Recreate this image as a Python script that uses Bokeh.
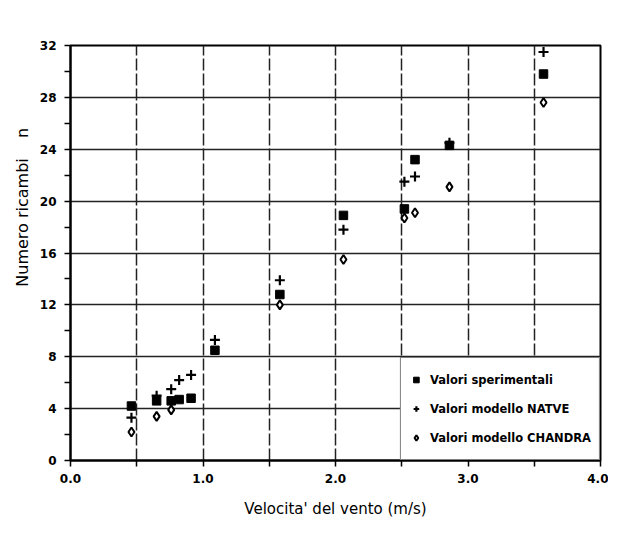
from bokeh.plotting import figure
from bokeh.models import FixedTicker, NumeralTickFormatter, Legend, LegendItem
from bokeh.embed import file_html
from bokeh.resources import INLINE

# ---- data ----
x_exp = [0.46, 0.65, 0.76, 0.82, 0.91, 1.09, 1.58, 2.06, 2.52, 2.60, 2.86, 3.57]
y_exp = [4.2, 4.6, 4.6, 4.7, 4.8, 8.5, 12.8, 18.9, 19.4, 23.2, 24.3, 29.8]

x_natve = [0.46, 0.65, 0.76, 0.82, 0.91, 1.09, 1.58, 2.06, 2.52, 2.60, 2.86, 3.57]
y_natve = [3.3, 5.0, 5.5, 6.2, 6.6, 9.3, 13.9, 17.8, 21.5, 21.9, 24.5, 31.5]

x_chandra = [0.46, 0.65, 0.76, 1.58, 2.06, 2.52, 2.60, 2.86, 3.57]
y_chandra = [2.2, 3.4, 3.9, 12.0, 15.5, 18.7, 19.1, 21.1, 27.6]

x_ticks = [0, 1, 2, 3, 4]
x_minor = [0.5, 1.5, 2.5, 3.5]
y_ticks = [0, 4, 8, 12, 16, 20, 24, 28, 32]
y_minor = [2, 6, 10, 14, 18, 22, 26, 30]

labels = ["Valori sperimentali", "Valori modello NATVE", "Valori modello CHANDRA"]
x_title = "Velocita' del vento (m/s)"
y_title = "Numero ricambi" + "\u00a0" * 4 + "n"

FONT = "DejaVu Sans"
NB = "\u00a0"

p = figure(width=608, height=526, output_backend="svg", toolbar_location=None,
           x_range=(0, 4), y_range=(0, 32),
           min_border_left=70, min_border_right=8, min_border_top=45, min_border_bottom=66,
           background_fill_color="white", border_fill_color="white")

p.outline_line_color = "black"
p.outline_line_width = 2

# axes
p.xaxis.ticker = FixedTicker(ticks=x_ticks, minor_ticks=x_minor)
p.yaxis.ticker = FixedTicker(ticks=y_ticks, minor_ticks=y_minor)
p.xaxis.formatter = NumeralTickFormatter(format="0.0")
for ax in (p.xaxis, p.yaxis):
    ax.axis_line_color = "black"
    ax.axis_line_width = 2
    ax.major_tick_line_color = "black"
    ax.minor_tick_line_color = "black"
    ax.major_tick_line_width = 1.5
    ax.minor_tick_line_width = 1.5
    ax.major_tick_in = 0
    ax.major_tick_out = 6
    ax.minor_tick_in = 0
    ax.minor_tick_out = 6
    ax.major_label_text_font = FONT
    ax.major_label_text_font_style = "bold"
    ax.major_label_text_font_size = "12px"
    ax.major_label_text_color = "black"
    ax.axis_label_text_font = FONT
    ax.axis_label_text_font_style = "normal"
    ax.axis_label_text_color = "black"

p.xaxis.axis_label_text_font_size = "15px"
p.yaxis.axis_label_text_font_size = "16px"
p.xaxis.axis_label = x_title
# leading non-breaking spaces shift the visible label upward, as in the reference
p.yaxis.axis_label = NB * 18 + y_title
p.xaxis.major_label_standoff = 7
p.xaxis.axis_label_standoff = 14
p.yaxis.major_label_standoff = 8
p.yaxis.axis_label_standoff = 5

# grids
p.xgrid.ticker = FixedTicker(ticks=x_minor + [1, 2, 3])
p.ygrid.ticker = FixedTicker(ticks=[4, 8, 12, 16, 20, 24, 28])
p.xgrid.grid_line_color = "#222222"
p.xgrid.grid_line_width = 1.5
p.xgrid.grid_line_dash = "12 3"
p.ygrid.grid_line_color = "#222222"
p.ygrid.grid_line_width = 1.5

# markers
r_ch = p.scatter(x_chandra, y_chandra, marker="diamond", size=9,
                 fill_color="white", line_color="black", line_width=2)
r_na = p.scatter(x_natve, y_natve, marker="cross", size=10,
                 line_color="black", line_width=2.2)
r_ex = p.scatter(x_exp, y_exp, marker="square", size=8.5,
                 fill_color="black", line_color="black")

legend = Legend(items=[LegendItem(label=labels[0], renderers=[r_ex]),
                       LegendItem(label=labels[1], renderers=[r_na]),
                       LegendItem(label=labels[2], renderers=[r_ch])],
                location="bottom_right")
legend.margin = 0
legend.padding = 8
legend.spacing = 2
legend.label_height = 27
legend.glyph_height = 27
legend.glyph_width = 14
legend.label_standoff = 7
legend.label_text_font = FONT
legend.label_text_font_size = "11.5px"
legend.label_text_font_style = "bold"
legend.label_text_color = "black"
legend.border_line_color = "black"
legend.border_line_width = 1.5
legend.background_fill_color = "white"
legend.background_fill_alpha = 1
p.add_layout(legend, "center")

open("out.html", "w").write(file_html(p, INLINE))
